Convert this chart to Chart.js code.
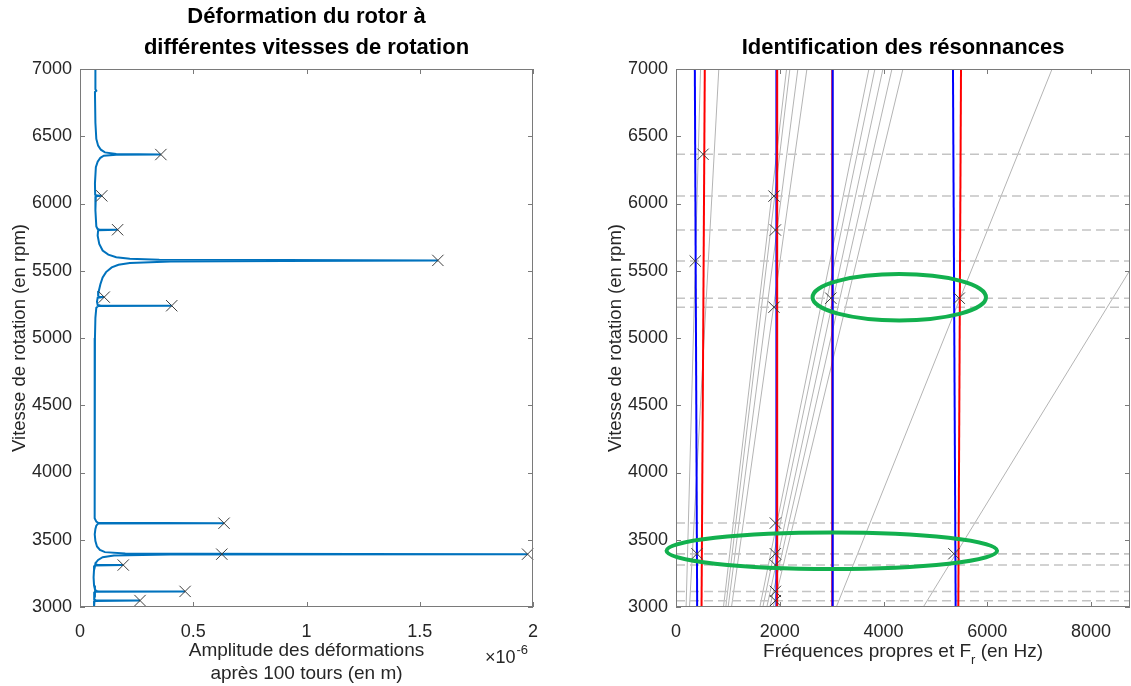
<!DOCTYPE html>
<html>
<head>
<meta charset="utf-8">
<script src="https://cdn.jsdelivr.net/npm/chart.js@4.4.1/dist/chart.umd.min.js"></script>
<style>
  body { margin: 0; background: #fff; width: 1131px; height: 686px; overflow: hidden; position: relative; }
  canvas { position: absolute; top: 0; }
  #deformChart { left: 0; }
  #campbellChart { left: 560px; }
</style>
</head>
<body>
<canvas id="deformChart" width="560" height="686"></canvas>
<canvas id="campbellChart" width="571" height="686"></canvas>
<script>
// ---- left plot: amplitude after 100 turns (x1e-6 m) vs rotation speed (rpm)
const sweepRpm = [
  7000, 6850, 6838, 6830, 6600, 6480, 6430, 6400, 6380, 6368, 6364, 6362, 6355, 6340, 6310, 6270,
  6150, 6065, 6059, 6057, 6054, 5950,
  5830, 5810, 5807, 5805, 5802,
  5760, 5700, 5650, 5620, 5600, 5590, 5582, 5580, 5577, 5572, 5568, 5558, 5545, 5525, 5490, 5450, 5400, 5350,
  5315, 5306, 5304, 5300, 5270, 5245, 5242, 5240, 5237, 5225, 5150,
  5000, 4500, 4000, 3700, 3660, 3635, 3626, 3623, 3620, 3605, 3580, 3540,
  3490, 3450, 3425, 3408, 3398, 3395, 3393, 3390, 3382, 3370, 3350, 3330,
  3316, 3313, 3312, 3309, 3280, 3220, 3160, 3130, 3120, 3117, 3116, 3113,
  3095, 3070, 3055, 3050, 3048, 3045, 3020, 3000
];
const sweepAmp = [
  0.068, 0.068, 0.072, 0.066, 0.068, 0.072, 0.080, 0.092, 0.110, 0.160, 0.357, 0.160, 0.105, 0.090, 0.078, 0.070,
  0.066, 0.067, 0.075, 0.096, 0.070, 0.068,
  0.072, 0.078, 0.085, 0.166, 0.080,
  0.078, 0.085, 0.100, 0.125, 0.160, 0.220, 0.350, 0.900, 1.580, 0.900, 0.400, 0.220, 0.170, 0.140, 0.115, 0.100, 0.090, 0.083,
  0.080, 0.085, 0.107, 0.078, 0.075, 0.078, 0.090, 0.405, 0.080, 0.072, 0.068,
  0.066, 0.065, 0.064, 0.064, 0.066, 0.072, 0.080, 0.636, 0.080, 0.072, 0.068, 0.065,
  0.068, 0.075, 0.088, 0.110, 0.200, 0.500, 1.976, 0.400, 0.150, 0.100, 0.080, 0.070,
  0.068, 0.080, 0.191, 0.066, 0.062, 0.060, 0.062, 0.066, 0.072, 0.080, 0.464, 0.066,
  0.062, 0.062, 0.064, 0.070, 0.265, 0.064, 0.062, 0.062
];
const peakRpm = [6364, 6057, 5805, 5577, 5304, 5240, 3623, 3393, 3393, 3312, 3116, 3048];
const peakAmp = [0.357, 0.096, 0.166, 1.58, 0.107, 0.405, 0.636, 0.626, 1.976, 0.191, 0.464, 0.265];
const ampTicks = [0, 0.5, 1, 1.5, 2];

// ---- right plot: natural frequencies (Hz) at 3000 and 7000 rpm
const blueF3000 = [408, 1935, 3022, 5390];
const blueF7000 = [363, 1935, 3020, 5338];
const redF3000 = [492, 1948, 3010, 5441];
const redF7000 = [555, 1950, 3012, 5493];
// excitation lines F_r (grey), start/end points
const harmF0 = [195, 260, 915, 960, 1005, 1070, 1616, 1674, 1751, 1809, 1874, 3090, 4766];
const harmF1 = [473, 825, 2131, 2195, 2349, 2523, 3718, 3834, 3988, 4162, 4374, 7248, 8750];
const harmRpm0 = [3000, 3000, 3000, 3000, 3000, 3000, 3000, 3000, 3000, 3000, 3000, 3000, 3000];
const harmRpm1 = [7000, 7000, 7000, 7000, 7000, 7000, 7000, 7000, 7000, 7000, 7000, 7000, 5505];
// resonance speeds (dashed) and identified crossings
const resonanceRpm = [6366, 6055, 5803, 5572, 5296, 5229, 3624, 3396, 3396, 3312, 3116, 3047];
const crossFreq = [521, 1889, 1915, 371, 2984, 5459, 1889, 1915, 404, 1915, 5355, 1915, 1915, 1915];
const crossRpm = [6366, 6055, 5803, 5572, 5296, 5296, 5229, 3624, 3396, 3396, 3396, 3312, 3116, 3047];
// hand-drawn green ellipses (centre / radii in data units)
const ellipseCx = [4303, 3003];
const ellipseCy = [5303, 3418];
const ellipseRx = [1671, 3186];
const ellipseRy = [172, 136];
const freqTicks = [0, 2000, 4000, 6000, 8000];

const rpmTicks = [3000, 3500, 4000, 4500, 5000, 5500, 6000, 6500, 7000];
const freqMax = 8750;

Chart.defaults.font.family = "'Liberation Sans', Arial, sans-serif";
Chart.defaults.color = '#262626';

const textColor = '#262626';

// box around the axes with inward ticks on all sides (matlab style)
const boxPlugin = {
  id: 'matlabBox',
  afterDatasetsDraw(chart) {
    const { ctx, chartArea: a, scales: { x, y } } = chart;
    ctx.save();
    ctx.strokeStyle = '#7a7a7a';
    ctx.lineWidth = 1;
    ctx.strokeRect(Math.round(a.left) + 0.5, Math.round(a.top) + 0.5, Math.round(a.width) - 1, Math.round(a.height) - 1);
    ctx.beginPath();
    x.ticks.forEach(t => {
      const px = Math.round(x.getPixelForValue(t.value)) + 0.5;
      ctx.moveTo(px, a.bottom); ctx.lineTo(px, a.bottom - 5);
      ctx.moveTo(px, a.top); ctx.lineTo(px, a.top + 5);
    });
    y.ticks.forEach(t => {
      const py = Math.round(y.getPixelForValue(t.value)) + 0.5;
      ctx.moveTo(a.left, py); ctx.lineTo(a.left + 5, py);
      ctx.moveTo(a.right, py); ctx.lineTo(a.right - 5, py);
    });
    ctx.stroke();
    ctx.restore();
  }
};

// "x10^-6" multiplier under the left x axis
const exponentPlugin = {
  id: 'exponent',
  afterDraw(chart) {
    const { ctx, chartArea: a } = chart;
    ctx.save();
    ctx.fillStyle = textColor;
    ctx.textBaseline = 'middle';
    ctx.textAlign = 'left';
    ctx.font = "18px 'Liberation Sans', Arial, sans-serif";
    const x0 = a.right - 48;
    ctx.fillText('×10', x0, 658);
    const w = ctx.measureText('×10').width;
    ctx.font = "13px 'Liberation Sans', Arial, sans-serif";
    ctx.fillText('-6', x0 + w + 1, 650);
    ctx.restore();
  }
};

// x label with subscript r + green ellipses
const campbellPlugin = {
  id: 'campbellExtras',
  afterDraw(chart) {
    const { ctx, chartArea: a, scales: { x, y } } = chart;
    ctx.save();
    ctx.strokeStyle = '#12b04e';
    ctx.lineWidth = 4;
    ellipseCx.forEach((cx, i) => {
      const px = x.getPixelForValue(cx);
      const py = y.getPixelForValue(ellipseCy[i]);
      const rx = Math.abs(x.getPixelForValue(cx + ellipseRx[i]) - px);
      const ry = Math.abs(y.getPixelForValue(ellipseCy[i] + ellipseRy[i]) - py);
      ctx.beginPath();
      ctx.ellipse(px, py, rx, ry, 0, 0, Math.PI * 2);
      ctx.stroke();
    });

    const main = "19px 'Liberation Sans', Arial, sans-serif";
    const sub = "13px 'Liberation Sans', Arial, sans-serif";
    const p1 = 'Fréquences propres et F', p2 = 'r', p3 = ' (en Hz)';
    ctx.font = main;
    const w1 = ctx.measureText(p1).width, w3 = ctx.measureText(p3).width;
    ctx.font = sub;
    const w2 = ctx.measureText(p2).width;
    let cx = (a.left + a.right) / 2 - (w1 + w2 + w3) / 2;
    const cy = 652;
    ctx.fillStyle = textColor;
    ctx.textBaseline = 'middle';
    ctx.textAlign = 'left';
    ctx.font = main;
    ctx.fillText(p1, cx, cy);
    cx += w1;
    ctx.font = sub;
    ctx.fillText(p2, cx, cy + 8);
    cx += w2;
    ctx.font = main;
    ctx.fillText(p3, cx, cy);
    ctx.restore();
  }
};

const tickFont = { size: 18 };
const yTitle = (pad) => ({
  display: true,
  text: 'Vitesse de rotation (en rpm)',
  font: { size: 18.5 },
  color: textColor,
  padding: { top: pad, bottom: 0 }
});
const yScale = (width, pad) => ({
  type: 'linear',
  min: 3000,
  max: 7000,
  grid: { display: false, drawTicks: false },
  border: { display: false },
  ticks: { padding: 8, font: tickFont, color: textColor, callback: v => String(v) },
  afterBuildTicks: s => { s.ticks = rpmTicks.map(v => ({ value: v })); },
  title: yTitle(pad),
  afterFit: s => { s.width = width; s.paddingTop = 0; s.paddingBottom = 0; }
});
const xFit = s => { s.height = 79; s.paddingLeft = 0; s.paddingRight = 0; };

// ---------------- left chart
new Chart(document.getElementById('deformChart'), {
  type: 'scatter',
  data: {
    datasets: [
      {
        data: peakRpm.map((r, i) => ({ x: peakAmp[i], y: r })),
        pointStyle: 'crossRot',
        pointRadius: 8,
        borderColor: '#3c3c3c',
        backgroundColor: '#3c3c3c',
        borderWidth: 1,
        clip: false,
        order: 0
      },
      {
        data: sweepRpm.map((r, i) => ({ x: sweepAmp[i], y: r })),
        showLine: true,
        borderColor: '#0072BD',
        borderWidth: 2,
        pointRadius: 0,
        order: 1
      }
    ]
  },
  options: {
    responsive: false,
    animation: false,
    events: [],
    layout: { autoPadding: false, padding: { left: 0, right: 27, top: 0, bottom: 0 } },
    plugins: {
      legend: { display: false },
      tooltip: { enabled: false },
      title: {
        display: true,
        fullSize: false,
        text: ['Déformation du rotor à', 'différentes vitesses de rotation'],
        color: '#000',
        font: { size: 22, weight: 'bold', lineHeight: 1.4 },
        padding: { top: 2, bottom: 5.4 }
      }
    },
    scales: {
      x: {
        type: 'linear',
        min: 0,
        max: 2,
        grid: { display: false, drawTicks: false },
        border: { display: false },
        ticks: { padding: 14, maxRotation: 0, autoSkip: false, font: tickFont, color: textColor, callback: v => String(v) },
        afterBuildTicks: s => { s.ticks = ampTicks.map(v => ({ value: v })); },
        title: {
          display: true,
          text: ['Amplitude des déformations', 'après 100 tours (en m)'],
          font: { size: 19, lineHeight: 1.25 },
          color: textColor,
          padding: { top: 0, bottom: 0 }
        },
        afterFit: xFit
      },
      y: yScale(80, 9)
    }
  },
  plugins: [boxPlugin, exponentPlugin]
});

// ---------------- right chart
const campbellSets = [];
harmF0.forEach((f, i) => {
  campbellSets.push({
    data: [{ x: f, y: harmRpm0[i] }, { x: harmF1[i], y: harmRpm1[i] }],
    showLine: true, borderColor: '#b4b4b4', borderWidth: 1, pointRadius: 0, order: 5
  });
});
resonanceRpm.forEach(r => {
  campbellSets.push({
    data: [{ x: 0, y: r }, { x: freqMax, y: r }],
    showLine: true, borderColor: '#c4c4c4', borderWidth: 1.5, borderDash: [9, 5], pointRadius: 0, order: 4
  });
});
blueF3000.forEach((f, i) => {
  campbellSets.push({
    data: [{ x: f, y: 3000 }, { x: blueF7000[i], y: 7000 }],
    showLine: true, borderColor: '#0000ff', borderWidth: 2, pointRadius: 0, order: i === 2 ? 1 : 3
  });
});
redF3000.forEach((f, i) => {
  campbellSets.push({
    data: [{ x: f, y: 3000 }, { x: redF7000[i], y: 7000 }],
    showLine: true, borderColor: '#ff0000', borderWidth: 2, pointRadius: 0, order: 2
  });
});
campbellSets.push({
  data: crossFreq.map((f, i) => ({ x: f, y: crossRpm[i] })),
  pointStyle: 'crossRot', pointRadius: 8, borderColor: '#3c3c3c', backgroundColor: '#3c3c3c',
  borderWidth: 1, clip: false, order: 0
});

new Chart(document.getElementById('campbellChart'), {
  type: 'scatter',
  data: { datasets: campbellSets },
  options: {
    responsive: false,
    animation: false,
    events: [],
    layout: { autoPadding: false, padding: { left: 0, right: 1, top: 0, bottom: 0 } },
    plugins: {
      legend: { display: false },
      tooltip: { enabled: false },
      title: {
        display: true,
        fullSize: false,
        text: 'Identification des résonnances',
        color: '#000',
        font: { size: 22, weight: 'bold', lineHeight: 1.4 },
        padding: { top: 33, bottom: 5.2 }
      }
    },
    scales: {
      x: {
        type: 'linear',
        min: 0,
        max: freqMax,
        grid: { display: false, drawTicks: false },
        border: { display: false },
        ticks: { padding: 14, maxRotation: 0, autoSkip: false, font: tickFont, color: textColor, callback: v => String(v) },
        afterBuildTicks: s => { s.ticks = freqTicks.map(v => ({ value: v })); },
        afterFit: xFit
      },
      y: yScale(116, 45)
    }
  },
  plugins: [boxPlugin, campbellPlugin]
});
</script>
</body>
</html>
